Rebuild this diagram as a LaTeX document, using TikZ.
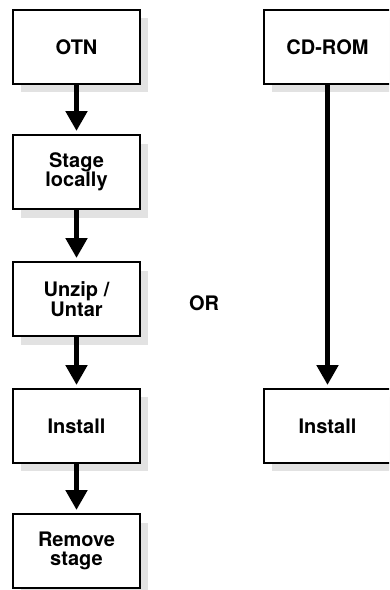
\documentclass[tikz,border=0pt]{standalone}
\usepackage{fontspec}
\setmainfont{TeX Gyre Heros}
\usetikzlibrary{arrows.meta}
\definecolor{shadowgray}{HTML}{E2E2E2}
\tikzset{
  box/.style={draw=black, line width=2pt, fill=white, minimum width=127pt, minimum height=74pt,
    inner sep=0pt, align=center, font=\fontsize{20}{19.5}\selectfont\bfseries, anchor=center},
  shadowbox/.style={fill=shadowgray, draw=none, minimum width=127pt, minimum height=74pt, inner sep=0pt},
  flow/.style={line width=5.5pt, -{Triangle[width=21pt,length=20pt]}, shorten >=3pt},
  label/.style={font=\fontsize{20}{19.5}\selectfont\bfseries}
}
\begin{document}
\begin{tikzpicture}[x=1pt,y=-1pt]
\useasboundingbox (0,0) rectangle (389,590);
\begin{scope}
\clip (0,0) rectangle (389,590);
% shadows
\foreach \cx/\cy/\nm in {76.5/47/s1,76.5/173/s2,76.5/300/s3,76.5/426/s4,76.5/552/s5,327.5/47/s6,327.5/426/s7}
  \node[shadowbox] (\nm) at (\cx+8,\cy+8) {};
% boxes
\node[box] (otn) at (76.5,47) {OTN};
\node[box] (stage) at (76.5,172) {Stage\\locally};
\node[box] (unzip) at (76.5,299) {Unzip /\\Untar};
\node[box] (inst1) at (76.5,426) {Install};
\node[box] (remove) at (76.5,551) {Remove\\stage};
\node[box] (cdrom) at (327.5,47) {CD-ROM};
\node[box] (inst2) at (327.5,426) {Install};
\node[label] (or) at (204,303) {OR};
% connectors
\draw[flow] (otn) -- (stage);
\draw[flow] (stage) -- (unzip);
\draw[flow] (unzip) -- (inst1);
\draw[flow] (inst1) -- (remove);
\draw[flow] (cdrom) -- (inst2);
\end{scope}
\end{tikzpicture}
\end{document}
